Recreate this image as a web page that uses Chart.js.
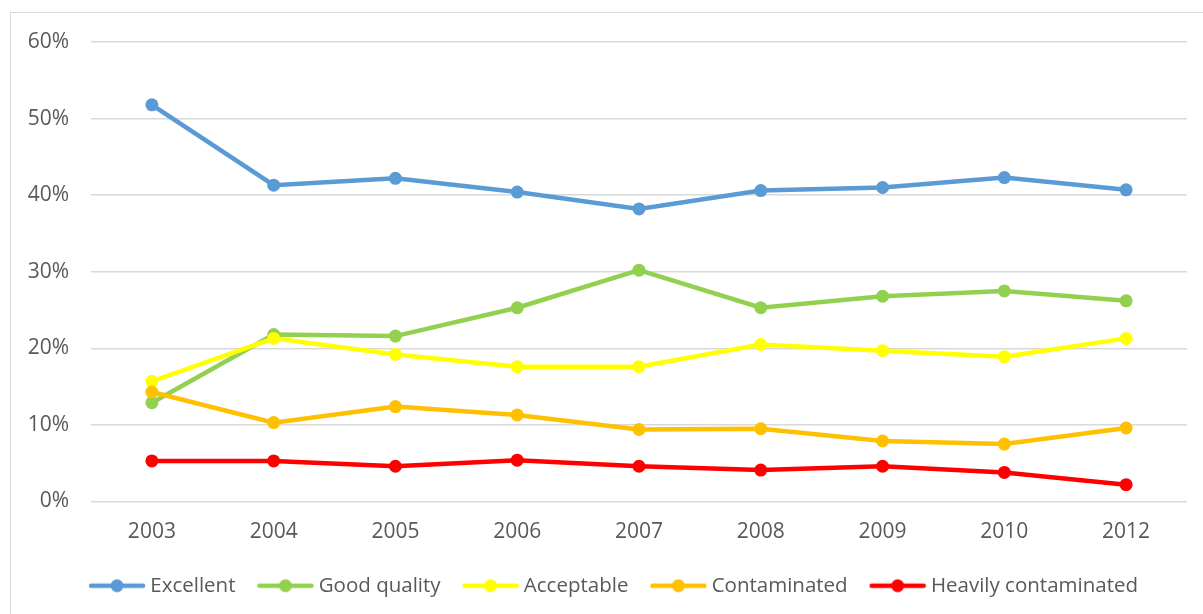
<!DOCTYPE html>
<html>
<head>
<meta charset="utf-8">
<script src="https://cdn.jsdelivr.net/npm/chart.js@4.4.0/dist/chart.umd.min.js"></script>
<style>
  html, body { margin: 0; padding: 0; background: #fff; }
  #wrap { position: relative; width: 1203px; height: 614px; }
  #frame { position: absolute; left: 10px; top: 12px; width: 1200px; height: 620px; border: 1px solid #d9d9d9; box-sizing: border-box; }
  canvas { position: absolute; left: 0; top: 0; }
</style>
</head>
<body>
<div id="wrap">
  <div id="frame"></div>
  <canvas id="waterChart" width="1203" height="614"></canvas>
</div>
<script>
// categories and values (percent)
const years = ['2003', '2004', '2005', '2006', '2007', '2008', '2009', '2010', '2012'];
const seriesNames = ['Excellent', 'Good quality', 'Acceptable', 'Contaminated', 'Heavily contaminated'];
const excellent    = [51.8, 41.3, 42.2, 40.4, 38.2, 40.6, 41.0, 42.3, 40.7];
const goodQuality  = [12.9, 21.8, 21.6, 25.3, 30.2, 25.3, 26.8, 27.5, 26.2];
const acceptable   = [15.7, 21.3, 19.2, 17.6, 17.6, 20.5, 19.7, 18.9, 21.3];
const contaminated = [14.3, 10.3, 12.4, 11.3, 9.4, 9.5, 7.9, 7.5, 9.6];
const heavily      = [5.3, 5.3, 4.6, 5.4, 4.6, 4.1, 4.6, 3.8, 2.2];
const yTicks = [0, 10, 20, 30, 40, 50, 60];

const colors = ['#5B9BD5', '#92D050', '#FFFF00', '#FFC000', '#FF0000'];
const allValues = [excellent, goodQuality, acceptable, contaminated, heavily];

// legend marker: short line with a dot in the middle
function legendMarker(color) {
    const c = document.createElement('canvas');
    c.width = 58; c.height = 16;
    const g = c.getContext('2d');
    g.strokeStyle = color;
    g.lineWidth = 4.5;
    g.lineCap = 'round';
    g.beginPath(); g.moveTo(3, 8); g.lineTo(55, 8); g.stroke();
    g.fillStyle = color;
    g.beginPath(); g.arc(29, 8, 6.5, 0, Math.PI * 2); g.fill();
    return c;
}

// legend sits a bit right of centre in the original
const legendShift = {
    id: 'legendShift',
    afterLayout(chart) {
        chart.legend.left += 45;
    }
};

const ctx = document.getElementById('waterChart').getContext('2d');

new Chart(ctx, {
    type: 'line',
    data: {
        labels: years,
        datasets: seriesNames.map((name, i) => ({
            label: name,
            data: allValues[i],
            borderColor: colors[i],
            backgroundColor: colors[i],
            borderWidth: 4.5,
            pointRadius: 6.5,
            pointHoverRadius: 7,
            pointBorderWidth: 0,
            tension: 0,
            order: 10 - i // later series drawn on top, like Excel
        }))
    },
    options: {
        responsive: false,
        animation: false,
        layout: {
            padding: { top: 42, right: 16, bottom: 8, left: 0 }
        },
        scales: {
            x: {
                offset: true,
                grid: { display: false, drawTicks: false },
                border: { display: false },
                ticks: {
                    color: '#595959',
                    font: { family: 'Open Sans', size: 21 },
                    padding: 18,
                    maxRotation: 0
                },
                afterFit: function (scale) { scale.height = 47; }
            },
            y: {
                min: 0,
                max: 60,
                grid: { color: '#d9d9d9', lineWidth: 1.5, drawTicks: false },
                border: { display: false },
                afterBuildTicks: function (scale) {
                    scale.ticks = yTicks.map(v => ({ value: v }));
                },
                ticks: {
                    color: '#595959',
                    font: { family: 'Open Sans', size: 21 },
                    padding: 22,
                    callback: v => v + '%'
                },
                afterFit: function (scale) { scale.width = 91; }
            }
        },
        plugins: {
            legend: {
                position: 'bottom',
                labels: {
                    usePointStyle: true,
                    pointStyleWidth: 46,
                    color: '#595959',
                    font: { family: 'Open Sans', size: 20.5 },
                    padding: 27,
                    generateLabels: function (chart) {
                        return chart.data.datasets.map((ds, i) => ({
                            text: ds.label,
                            fontColor: '#595959',
                            pointStyle: legendMarker(colors[i]),
                            datasetIndex: i,
                            hidden: !chart.isDatasetVisible(i),
                            lineWidth: 0,
                            strokeStyle: colors[i],
                            fillStyle: colors[i]
                        }));
                    }
                }
            },
            tooltip: {
                callbacks: {
                    label: function (context) {
                        return context.dataset.label + ': ' + context.parsed.y + '%';
                    }
                }
            }
        }
    },
    plugins: [legendShift]
});
</script>
</body>
</html>
